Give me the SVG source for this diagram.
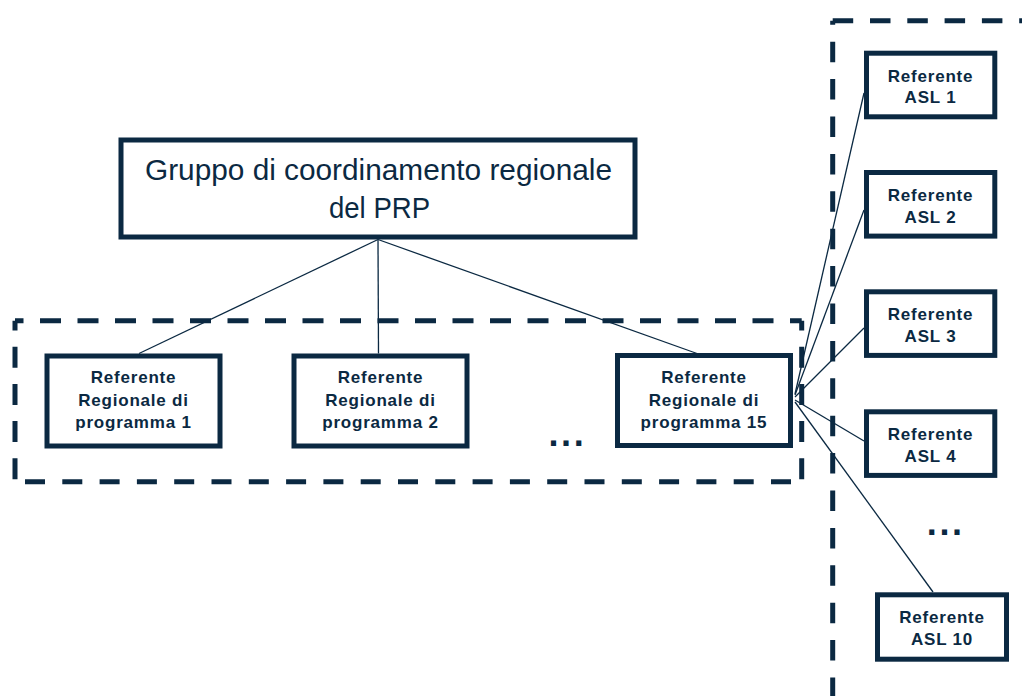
<svg xmlns="http://www.w3.org/2000/svg" width="1022" height="696" viewBox="0 0 1022 696">
<defs>
<style>
.frame{fill:none;stroke:#0b2942;stroke-width:5}
.box{fill:#ffffff;stroke:#0b2942;stroke-width:5}
.conn{fill:none;stroke:#0b2942;stroke-width:1.3}
.lbl{font-family:"Liberation Sans",Arial,sans-serif;font-weight:bold;font-size:17px;letter-spacing:0.8px;fill:#0b2942;text-anchor:middle}
.title{font-family:"Liberation Sans",Arial,sans-serif;font-size:30px;fill:#0b2942}
.dots{font-family:"Liberation Sans",Arial,sans-serif;font-weight:bold;font-size:36px;letter-spacing:2.6px;fill:#0b2942}
</style>
</defs>
<rect width="1022" height="696" fill="#ffffff"/>
<g id="frame-programmi">
<path class="frame" d="M15,320.7 H801.7" stroke-dasharray="21 16.5" stroke-dashoffset="12.5"/>
<path class="frame" d="M15,320.7 V481.7" stroke-dasharray="21 16.2" stroke-dashoffset="11.2"/>
<path class="frame" d="M15,481.7 H801.7" stroke-dasharray="20 17.3" stroke-dashoffset="27.3"/>
<path class="frame" d="M801.7,320.7 V481.7" stroke-dasharray="21 16.2" stroke-dashoffset="11.2"/>
</g>
<g id="frame-asl">
<path class="frame" d="M832.7,20.7 H1030" stroke-dasharray="20.5 16.8"/>
<path class="frame" d="M832.7,20.7 V710" stroke-dasharray="20.5 16.9" stroke-dashoffset="16.4"/>
</g>
<g id="connectors">
<line class="conn" x1="378" y1="239.5" x2="139" y2="353.5"/>
<line class="conn" x1="378" y1="239.5" x2="378.5" y2="353.5"/>
<line class="conn" x1="378" y1="239.5" x2="697" y2="353.5"/>
<line class="conn" x1="795" y1="394" x2="864" y2="93"/>
<line class="conn" x1="795" y1="395" x2="864" y2="210"/>
<line class="conn" x1="795" y1="397" x2="864" y2="328"/>
<line class="conn" x1="795" y1="400" x2="864" y2="441"/>
<line class="conn" x1="795" y1="402" x2="933" y2="592"/>
</g>
<g id="gruppo">
<rect class="box" x="121" y="140" width="514" height="97" stroke-width="5.3"/>
<text class="title" x="145" y="180" textLength="467" lengthAdjust="spacingAndGlyphs">Gruppo di coordinamento regionale</text>
<text class="title" x="329" y="218.3" textLength="101" lengthAdjust="spacingAndGlyphs">del PRP</text>
</g>
<g id="programma1">
<rect class="box" x="47" y="356" width="173" height="90"/>
<text class="lbl" x="133.5" y="382.7">Referente</text>
<text class="lbl" x="133.5" y="406">Regionale di</text>
<text class="lbl" x="133.5" y="428.3">programma 1</text>
</g>
<g id="programma2">
<rect class="box" x="294" y="356" width="173" height="90"/>
<text class="lbl" x="380.5" y="382.7">Referente</text>
<text class="lbl" x="380.5" y="406">Regionale di</text>
<text class="lbl" x="380.5" y="428.3">programma 2</text>
</g>
<g id="ellipsis-programmi">
<text class="dots" x="548.5" y="446">...</text>
</g>
<g id="programma15">
<rect class="box" x="617.5" y="355.5" width="173" height="90"/>
<text class="lbl" x="704" y="382.7">Referente</text>
<text class="lbl" x="704" y="406">Regionale di</text>
<text class="lbl" x="704" y="428.3">programma 15</text>
</g>
<g id="asl1">
<rect class="box" x="866.5" y="53.2" width="128.3" height="63.6"/>
<text class="lbl" x="930.5" y="81.7">Referente</text>
<text class="lbl" x="930.5" y="103.3">ASL 1</text>
</g>
<g id="asl2">
<rect class="box" x="866.5" y="172.5" width="128.3" height="63.6"/>
<text class="lbl" x="930.5" y="201">Referente</text>
<text class="lbl" x="930.5" y="222.6">ASL 2</text>
</g>
<g id="asl3">
<rect class="box" x="866.5" y="291.8" width="128.3" height="63.6"/>
<text class="lbl" x="930.5" y="320.3">Referente</text>
<text class="lbl" x="930.5" y="341.9">ASL 3</text>
</g>
<g id="asl4">
<rect class="box" x="866.5" y="411.8" width="128.3" height="63.6"/>
<text class="lbl" x="930.5" y="440.3">Referente</text>
<text class="lbl" x="930.5" y="461.9">ASL 4</text>
</g>
<g id="ellipsis-asl">
<text class="dots" x="926.8" y="535">...</text>
</g>
<g id="asl10">
<rect class="box" x="877.5" y="594.8" width="129" height="64.4"/>
<text class="lbl" x="942" y="623.3">Referente</text>
<text class="lbl" x="942" y="644.9">ASL 10</text>
</g>
</svg>
